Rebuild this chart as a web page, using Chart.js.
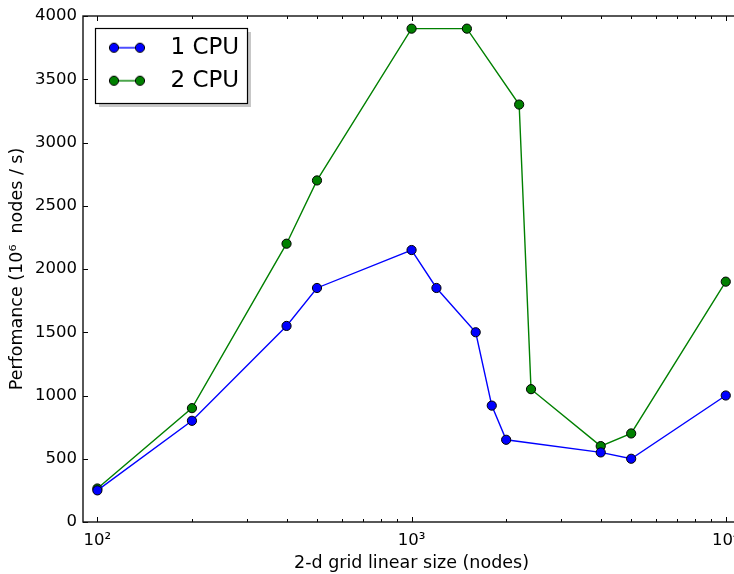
<!DOCTYPE html>
<html>
<head>
<meta charset="utf-8">
<script src="https://cdn.jsdelivr.net/npm/chart.js@4.4.1/dist/chart.umd.min.js"></script>
<style>
    html, body { margin: 0; padding: 0; background: #fff; overflow: hidden; }
    #wrap { width: 750px; height: 574px; position: relative; }
</style>
</head>
<body>
<div id="wrap"><canvas id="perf-chart"></canvas></div>
<script>
// Data
const sizes1 = [100, 200, 400, 500, 1000, 1200, 1600, 1800, 2000, 4000, 5000, 10000];
const perf1  = [250, 800, 1550, 1850, 2150, 1850, 1500, 920, 650, 550, 500, 1000];
const sizes2 = [100, 200, 400, 500, 1000, 1500, 2200, 2400, 4000, 5000, 10000];
const perf2  = [265, 900, 2200, 2700, 3900, 3900, 3300, 1050, 600, 700, 1900];
const seriesLabels = ['1 CPU', '2 CPU'];
const seriesColors = ['#0000ff', '#008000'];
const xTickValues = [100, 1000, 10000];
const xTickLabels = ['10²', '10³', '10⁴'];

const FONT = 'DejaVu Sans';

// legend sample: a short line with a marker at each end
function legendSample(color) {
    const c = document.createElement('canvas');
    c.width = 66;
    c.height = 14;
    const g = c.getContext('2d');
    g.strokeStyle = color;
    g.lineWidth = 1.4;
    g.beginPath();
    g.moveTo(21, 7);
    g.lineTo(47, 7);
    g.stroke();
    [21, 47].forEach(cx => {
        g.beginPath();
        g.arc(cx, 7, 4.6, 0, Math.PI * 2);
        g.fillStyle = color;
        g.fill();
        g.lineWidth = 1;
        g.strokeStyle = '#000';
        g.stroke();
    });
    return c;
}

// matplotlib-style frame with inward ticks and a boxed legend with shadow
const frameAndTicks = {
    id: 'frameAndTicks',
    beforeDraw(chart) {
        const { ctx, chartArea: a } = chart;
        const bx = a.left + 12, by = a.top + 12, bw = 152, bh = 75;
        ctx.save();
        ctx.fillStyle = 'rgba(0, 0, 0, 0.22)';
        ctx.fillRect(bx + 4, by + 4, bw, bh);
        ctx.fillStyle = '#fff';
        ctx.fillRect(bx, by, bw, bh);
        ctx.strokeStyle = '#000';
        ctx.lineWidth = 1.2;
        ctx.strokeRect(bx + 0.5, by + 0.5, bw, bh);
        ctx.restore();
    },
    afterDatasetsDraw(chart) {
        const { ctx, chartArea: a, scales: { x, y } } = chart;
        ctx.save();
        ctx.strokeStyle = '#000';
        ctx.lineWidth = 1;
        ctx.beginPath();
        for (let e = 2; e <= 4; e++) {
            for (let m = 1; m <= 9; m++) {
                const v = m * Math.pow(10, e);
                if (v < x.min || v > x.max) continue;
                const px = Math.round(x.getPixelForValue(v)) + 0.5;
                const len = m === 1 ? 5 : 3;
                ctx.moveTo(px, a.bottom);
                ctx.lineTo(px, a.bottom - len);
                ctx.moveTo(px, a.top);
                ctx.lineTo(px, a.top + len);
            }
        }
        y.ticks.forEach(t => {
            const py = Math.round(y.getPixelForValue(t.value)) + 0.5;
            ctx.moveTo(a.left, py);
            ctx.lineTo(a.left + 5, py);
            ctx.moveTo(a.right, py);
            ctx.lineTo(a.right - 5, py);
        });
        ctx.stroke();
        ctx.lineWidth = 1.4;
        ctx.strokeStyle = '#111';
        ctx.strokeRect(a.left, a.top, a.right - a.left, a.bottom - a.top);
        ctx.restore();
    }
};

const pointsOf = (xs, ys) => xs.map((v, i) => ({ x: v, y: ys[i] }));

const makeDataset = (label, color, xs, ys) => ({
    label: label,
    data: pointsOf(xs, ys),
    borderColor: color,
    backgroundColor: color,
    borderWidth: 1.4,
    tension: 0,
    fill: false,
    pointRadius: 4.6,
    pointHoverRadius: 4.6,
    pointBorderColor: '#000',
    pointBorderWidth: 1,
    pointBackgroundColor: color,
    pointStyle: 'circle'
});

const ctx = document.getElementById('perf-chart').getContext('2d');

new Chart(ctx, {
    type: 'line',
    data: {
        datasets: [
            makeDataset(seriesLabels[0], seriesColors[0], sizes1, perf1),
            makeDataset(seriesLabels[1], seriesColors[1], sizes2, perf2)
        ]
    },
    options: {
        responsive: true,
        maintainAspectRatio: false,
        animation: false,
        events: [],
        layout: {
            padding: { left: 0, top: 16, right: 10, bottom: 0 }
        },
        plugins: {
            tooltip: { enabled: false },
            legend: {
                position: 'chartArea',
                align: 'start',
                title: {
                    display: true,
                    text: ' ',
                    font: { size: 1 },
                    padding: { top: 25, bottom: 0 }
                },
                labels: {
                    usePointStyle: true,
                    pointStyleWidth: 66,
                    padding: 10,
                    color: '#000',
                    font: { family: FONT, size: 23 },
                    generateLabels: (chart) => chart.data.datasets.map((ds, i) => ({
                        text: ds.label,
                        pointStyle: legendSample(seriesColors[i]),
                        fontColor: '#000',
                        lineWidth: 0,
                        datasetIndex: i
                    }))
                }
            }
        },
        scales: {
            x: {
                type: 'logarithmic',
                min: 90,
                max: 11100,
                grid: { display: false, drawTicks: false },
                border: { display: false },
                afterBuildTicks: (scale) => {
                    scale.ticks = xTickValues.map(v => ({ value: v }));
                },
                afterFit: (scale) => { scale.height = 52; },
                ticks: {
                    autoSkip: false,
                    maxRotation: 0,
                    padding: 9,
                    color: '#000',
                    font: { family: FONT, size: 16.5 },
                    callback: (value) => {
                        const i = xTickValues.indexOf(value);
                        return i >= 0 ? xTickLabels[i] : '';
                    }
                },
                title: {
                    display: true,
                    text: '2-d grid linear size (nodes)',
                    color: '#000',
                    font: { family: FONT, size: 17.5 },
                    padding: { top: 0, bottom: 0 }
                }
            },
            y: {
                min: 0,
                max: 4000,
                grid: { display: false, drawTicks: false },
                border: { display: false },
                afterFit: (scale) => { scale.width = 83; },
                ticks: {
                    stepSize: 500,
                    padding: 6,
                    color: '#000',
                    font: { family: FONT, size: 16.5 },
                    callback: (value) => String(value)
                },
                title: {
                    display: true,
                    text: 'Perfomance (10⁶  nodes / s)',
                    color: '#000',
                    font: { family: FONT, size: 17.5 },
                    padding: { top: 7, bottom: 0 }
                }
            }
        }
    },
    plugins: [frameAndTicks]
});
</script>
</body>
</html>
